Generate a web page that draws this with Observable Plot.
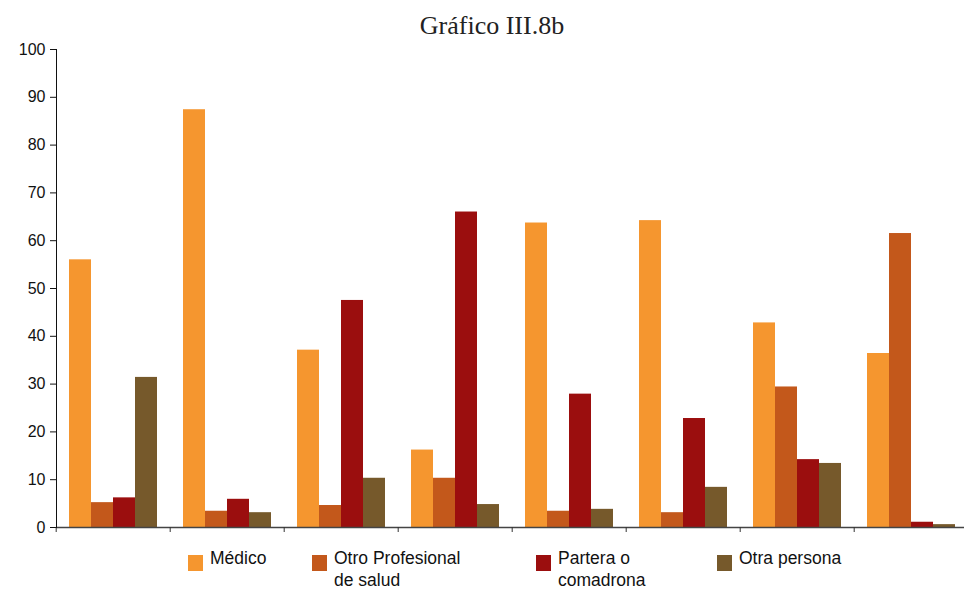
<!DOCTYPE html>
<html><head><meta charset="utf-8">
<script src="https://cdn.jsdelivr.net/npm/d3@7"></script>
<script src="https://cdn.jsdelivr.net/npm/@observablehq/plot@0.6"></script>
<style>
body{margin:0;background:#fff;overflow:hidden;font-family:"Liberation Sans",Arial,sans-serif;}
#wrap{position:relative;width:964px;height:590px;overflow:hidden;}
#title{position:absolute;top:11px;left:0;width:984px;text-align:center;font-family:"Liberation Serif",serif;font-size:26px;color:#222;}
#chart{position:absolute;top:0;left:0;width:970px;}
#chart svg{max-width:none !important;}
.leg{position:absolute;top:547px;display:flex;align-items:flex-start;font-size:17.5px;line-height:22px;color:#111;}
.sw{width:15px;height:16px;margin-top:8px;margin-right:7px;flex:none;}
</style></head>
<body>
<div id="wrap">
<div id="chart"></div>
<div id="title">Gráfico III.8b</div>
<div id="legend"></div>
</div>
<script>
const groups = ["1","2","3","4","5","6","7","8"];
const series = ["Médico","Otro Profesional de salud","Partera o comadrona","Otra persona"];
const legendLabels = [["Médico"],["Otro Profesional","de salud"],["Partera o","comadrona"],["Otra persona"]];
const colors = ["#F5962F","#C3581B","#9B0E0E","#76592B"];
const medico      = [56.0, 87.4, 37.1, 16.2, 63.7, 64.2, 42.8, 36.4];
const otroProf    = [ 5.2,  3.4,  4.6, 10.3,  3.4,  3.1, 29.4, 61.5];
const partera     = [ 6.2,  5.9, 47.5, 66.0, 27.9, 22.8, 14.2,  1.1];
const otraPersona = [31.4,  3.1, 10.3,  4.8,  3.8,  8.4, 13.4,  0.6];
const yTicks = [0,10,20,30,40,50,60,70,80,90,100];

const seriesValues = [medico, otroProf, partera, otraPersona];
const table = [];
groups.forEach((g, i) => series.forEach((s, j) => table.push({group: g, series: s, value: seriesValues[j][i]})));

const W = 970, ML = 53, MR = 0;
const facetW = (W - ML - MR) / groups.length;

const chart = Plot.plot({
  width: W, height: 540,
  marginTop: 49, marginBottom: 13, marginLeft: ML, marginRight: MR,
  fx: {domain: groups, padding: 0},
  x: {domain: series, paddingInner: 0, paddingOuter: 0.49, axis: null},
  y: {domain: [0, 100]},
  color: {domain: series, range: colors},
  style: {fontFamily: "Liberation Sans, Arial, sans-serif", color: "#111", maxWidth: "none"},
  marks: [
    Plot.barY(table, {fx: "group", x: "series", y: "value", fill: "series", inset: 0}),
    Plot.ruleY([0], {stroke: "#444", strokeWidth: 1.5}),
    Plot.axisY({ticks: yTicks, tickSize: 6, tickPadding: 5, fontSize: 16, label: null, stroke: "#111"}),
    Plot.axisFx({anchor: "bottom", tickSize: 5, tickFormat: () => "", dx: -facetW / 2, label: null, stroke: "#333"}),
    Plot.frame({anchor: "left", facetAnchor: "left", stroke: "#111"})
  ]
});
document.getElementById("chart").appendChild(chart);

const legPos = [188, 312, 536, 717];
const legend = document.getElementById("legend");
series.forEach((s, i) => {
  const d = document.createElement("div");
  d.className = "leg";
  d.style.left = legPos[i] + "px";
  d.innerHTML = `<div class="sw" style="background:${colors[i]}"></div><div>${legendLabels[i].join("<br>")}</div>`;
  legend.appendChild(d);
});
</script>
</body></html>
